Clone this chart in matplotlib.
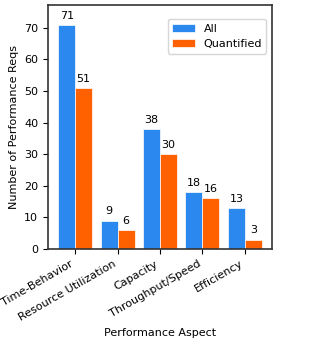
import matplotlib
matplotlib.use("Agg")
import matplotlib.pyplot as plt
import numpy as np

# Performance requirement counts per aspect
aspects = ["Time-Behavior", "Resource Utilization", "Capacity",
           "Throughput/Speed", "Efficiency"]
all_reqs = [71, 9, 38, 18, 13]
quantified_reqs = [51, 6, 30, 16, 3]

blue = "#2a88ee"
orange = "#ff6100"

fig = plt.figure(figsize=(3.2, 3.43), dpi=100)
ax = fig.add_axes([0.15, 0.274, 0.70, 0.711])

x = np.arange(len(aspects))
w = 0.4
b1 = ax.bar(x - w / 2, all_reqs, w, color=blue, edgecolor="white",
            linewidth=0.5, label="All")
b2 = ax.bar(x + w / 2, quantified_reqs, w, color=orange, edgecolor="white",
            linewidth=0.5, label="Quantified")

for bars in (b1, b2):
    for rect in bars:
        h = rect.get_height()
        ax.annotate(f"{int(h)}", (rect.get_x() + rect.get_width() / 2, h),
                    xytext=(0, 3), textcoords="offset points",
                    ha="center", va="bottom", fontsize=8)

ax.set_ylim(0, 77.2)
ax.set_yticks(range(0, 80, 10))
ax.set_xticks(x)
ax.set_xticklabels(aspects, rotation=30, ha="right", fontsize=8)
ax.tick_params(axis="y", labelsize=8)
ax.set_ylabel("Number of Performance Reqs", fontsize=8)
ax.set_xlabel("Performance Aspect", fontsize=8)
for s in ax.spines.values():
    s.set_color("#333333")
    s.set_linewidth(1.2)
ax.legend(loc="upper right", bbox_to_anchor=(1.0, 0.965), fontsize=8)

fig.savefig("out.png", dpi=100, facecolor="white")
